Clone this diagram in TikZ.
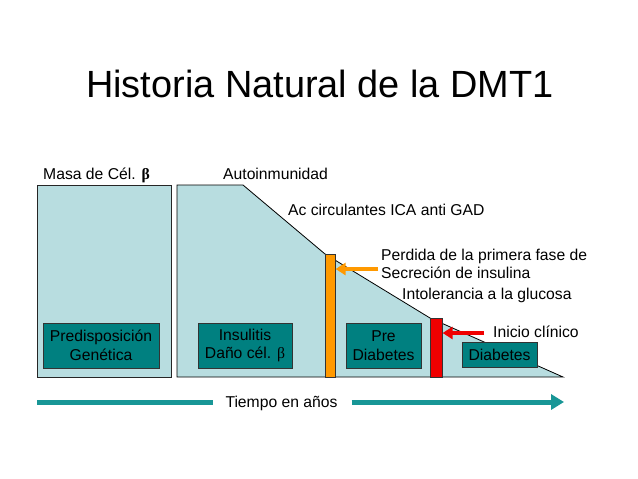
\documentclass[tikz,border=0pt]{standalone}
\usepackage{fontspec}
\setmainfont{Liberation Sans}
\newfontfamily\grk{Liberation Serif}
\usetikzlibrary{arrows.meta}
\definecolor{lightfill}{RGB}{184,221,224}
\definecolor{boxteal}{RGB}{0,128,128}
\definecolor{timeteal}{RGB}{24,150,150}
\definecolor{orangebar}{RGB}{255,153,0}
\definecolor{redbar}{RGB}{240,0,0}
\tikzset{
  txt/.style={inner sep=0pt, anchor=base west, font=\fontsize{15.7}{18}\selectfont},
  stagebox/.style={draw=black!80, fill=boxteal, line width=0.8pt, inner sep=0pt, align=center, font=\fontsize{15.7}{18.5}\selectfont},
  bar/.style={draw=black!80, line width=0.6pt, inner sep=0pt, anchor=north west},
  pointer/.style={line width=4pt, -{Triangle[length=10pt,width=12pt]}},
  timeline/.style={draw=timeteal, line width=5pt},
}
\begin{document}
\begin{tikzpicture}[x=1pt,y=-1pt]
\useasboundingbox[fill=white] (0,0) rectangle (638,479);
% title
\node[inner sep=0pt, anchor=base, font=\fontsize{37.9}{42}\selectfont] (title) at (320,97) {Historia Natural de la DMT1};
% left box
\node[draw=black!85, fill=lightfill, line width=1pt, minimum width=134pt, minimum height=192pt, inner sep=0pt, anchor=north west] (mass) at (37,185) {};
% declining shape
\draw[black, fill=lightfill, line width=0.8pt] (177,377) -- (177,185) -- (243,185) -- (325,254) -- (430,318) -- (563,377) -- cycle;
% bars
\node[bar, fill=orangebar, minimum width=10pt, minimum height=123pt] (obar) at (325,254) {};
\node[bar, fill=redbar, minimum width=12pt, minimum height=59pt] (rbar) at (430,318) {};
% stage boxes
\node[stagebox, minimum width=116pt, minimum height=45pt] (pred) at (101,345.5) {Predisposición\\Genética};
\node[stagebox, minimum width=94pt, minimum height=45pt] (insu) at (245,345.5) {Insulitis\\Daño cél. {\grk β}};
\node[stagebox, minimum width=75pt, minimum height=45pt] (pre) at (383.5,345.5) {Pre\\Diabetes};
\node[stagebox, minimum width=75pt, minimum height=25pt] (diab) at (499.5,354.5) {Diabetes};
% labels
\node[txt] (masa) at (43,179) {Masa de Cél. {\grk\bfseries β}};
\node[txt] (auto) at (223,179) {Autoinmunidad};
\node[txt] (ac) at (288,215) {Ac circulantes ICA anti GAD};
\node[txt] (perd) at (381,260) {Perdida de la primera fase de};
\node[txt] (secr) at (381,278) {Secreción de insulina};
\node[txt] (into) at (402,299) {Intolerancia a la glucosa};
\node[txt] (inic) at (493,337) {Inicio clínico};
% pointers
\coordinate (oa) at (378,269);
\coordinate (ra) at (484,333);
\draw[pointer, orangebar] (oa) -- (obar.east |- oa);
\draw[pointer, redbar] (ra) -- (rbar.east |- ra);
% time line
\node[txt, anchor=base] (tiempo) at (281.5,407) {Tiempo en años};
\coordinate (tl) at (37,402);
\coordinate (tr) at (564,402);
\draw[timeline] (tl) -- ([xshift=-12pt]tiempo.west |- tl);
\draw[timeline, -{Triangle[length=13pt,width=15pt]}] ([xshift=14pt]tiempo.east |- tr) -- (tr);
\end{tikzpicture}
\end{document}
